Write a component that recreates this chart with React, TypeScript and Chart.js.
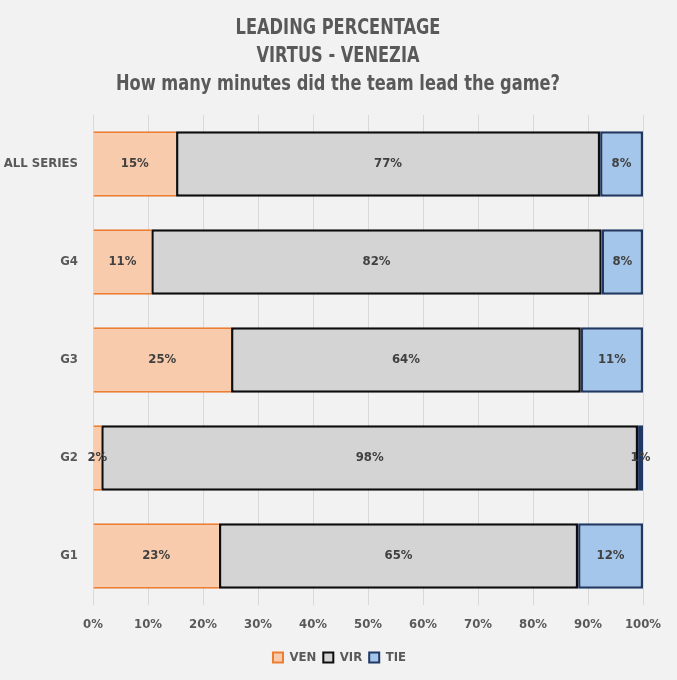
import { useEffect, useRef } from 'react';
import { Chart, registerables } from 'chart.js';

Chart.register(...registerables);

const FONT = "'DejaVu Sans Condensed', 'DejaVu Sans', sans-serif";
const TEXT = '#595959';

const categories = ['ALL SERIES', 'G4', 'G3', 'G2', 'G1'];
const venValues = [15.1, 10.6, 25.1, 1.5, 22.9];
const virValues = [77.1, 81.9, 63.6, 97.6, 65.3];
const tieValues = [7.8, 7.5, 11.3, 0.9, 11.8];
const titleLines = ['LEADING PERCENTAGE', 'VIRTUS - VENEZIA', 'How many minutes did the team lead the game?'];

// draws the value of each bar segment at its centre
const barLabels = {
  id: 'barLabels',
  afterDatasetsDraw(chart: any) {
    const ctx = chart.ctx;
    ctx.save();
    ctx.font = `bold 13px ${FONT}`;
    ctx.fillStyle = '#404040';
    ctx.textAlign = 'center';
    ctx.textBaseline = 'middle';
    chart.data.datasets.forEach((ds: any, i: number) => {
      const meta = chart.getDatasetMeta(i);
      if (meta.hidden) return;
      meta.data.forEach((el: any, j: number) => {
        const v = ds.data[j];
        const p = el.getProps(['x', 'y', 'base'], true);
        ctx.fillText(Math.round(v) + '%', (p.x + p.base) / 2, p.y);
      });
    });
    ctx.restore();
  },
};

// condensed three-line title
const condensedTitle = {
  id: 'condensedTitle',
  afterDraw(chart: any) {
    const ctx = chart.ctx;
    const cx = (chart.chartArea.left + chart.chartArea.right) / 2 - 30;
    ctx.save();
    ctx.font = `bold 22px ${FONT}`;
    ctx.fillStyle = TEXT;
    ctx.textAlign = 'center';
    ctx.textBaseline = 'alphabetic';
    titleLines.forEach((t, i) => {
      ctx.save();
      ctx.translate(cx, 34 + i * 28);
      ctx.scale(0.82, 1);
      ctx.fillText(t, 0, 0);
      ctx.restore();
    });
    ctx.restore();
  },
};

// let the category labels extend to the canvas edge without being clipped
const widenY = {
  id: 'widenY',
  afterLayout(chart: any) {
    const y = chart.scales.y;
    y.left = 0;
    y.width = y.right;
  },
};

export default function App() {
  const ref = useRef<HTMLCanvasElement>(null);
  useEffect(() => {
    document.body.style.margin = '0';
    document.body.style.background = '#f2f2f2';
    const chart = new Chart(ref.current!, {
      type: 'bar',
      data: {
        labels: categories,
        datasets: [
          {
            label: 'VEN',
            data: venValues,
            backgroundColor: '#f8cbad',
            borderColor: '#ed7d31',
            borderWidth: { top: 2, bottom: 2, left: 0, right: 0 },
            borderSkipped: false,
          },
          {
            label: 'VIR',
            data: virValues,
            backgroundColor: '#d4d4d4',
            borderColor: '#0d0d0d',
            borderWidth: 2.5,
            borderSkipped: false,
          },
          {
            label: 'TIE',
            data: tieValues,
            backgroundColor: '#a4c6ea',
            borderColor: '#1f3864',
            borderWidth: 2.5,
            borderSkipped: false,
          },
        ],
      },
      options: {
        indexAxis: 'y',
        responsive: false,
        animation: false,
        datasets: { bar: { categoryPercentage: 1, barPercentage: 0.67 } },
        layout: { padding: { left: 36, right: 34, top: 115, bottom: 6 } },
        scales: {
          x: {
            stacked: true,
            min: 0,
            max: 100,
            grid: { color: '#d9d9d9', drawTicks: false, lineWidth: 1 },
            border: { display: false },
            ticks: {
              stepSize: 10,
              padding: 12,
              color: TEXT,
              font: { family: FONT, size: 13, weight: 'bold' },
              callback: (v: any) => v + '%',
            },
            afterFit: (s: any) => { s.height = 39; },
          },
          y: {
            stacked: true,
            grid: { display: false, drawTicks: false },
            border: { display: false },
            ticks: {
              padding: 15,
              color: TEXT,
              font: { family: FONT, size: 13, weight: 'bold' },
            },
            afterFit: (s: any) => { s.width = 57; },
          },
        },
        plugins: {
          title: { display: false },
          legend: {
            position: 'bottom',
            labels: {
              boxWidth: 10,
              boxHeight: 10,
              padding: 7,
              color: TEXT,
              font: { family: FONT, size: 13, weight: 'bold' },
              generateLabels: (c: any) =>
                c.data.datasets.map((ds: any, i: number) => ({
                  text: ds.label,
                  fillStyle: ds.backgroundColor,
                  strokeStyle: ds.borderColor,
                  lineWidth: 2,
                  fontColor: TEXT,
                  hidden: !c.isDatasetVisible(i),
                  datasetIndex: i,
                })),
            },
          },
          tooltip: { enabled: false },
        },
      },
      plugins: [barLabels, condensedTitle, widenY],
    } as any);
    return () => chart.destroy();
  }, []);
  return (
    <div style={{ position: 'absolute', left: 0, top: 0, width: 677, height: 680, background: '#f2f2f2' }}>
      <canvas ref={ref} width={677} height={680} style={{ width: 677, height: 680, display: 'block' }} />
    </div>
  );
}
